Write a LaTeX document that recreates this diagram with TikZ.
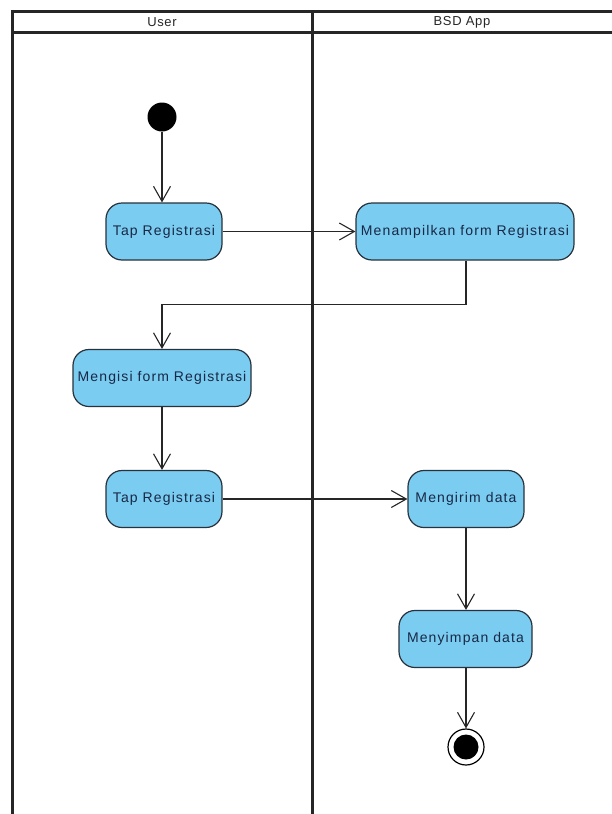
\documentclass[tikz,border=0pt]{standalone}
\usepackage{fontspec}
\setmainfont{Liberation Sans}
\usetikzlibrary{arrows.meta,shapes.misc}
\definecolor{actfill}{RGB}{122,204,240}
\definecolor{actline}{RGB}{40,50,60}
\definecolor{acttext}{RGB}{25,40,70}
\tikzset{
  act/.style={draw=actline, line width=1.2pt, fill=actfill, rounded corners=16pt,
    minimum height=57pt, inner sep=2pt, text=acttext,
    font=\fontsize{14}{16}\selectfont\addfontfeature{LetterSpace=8}},
  flow/.style={draw=black!85, line width=1.1pt,
    -{Straight Barb[length=15pt,width=17pt,line width=1.1pt]}},
  lane/.style={draw=black!85, line width=2.2pt},
  lanehead/.style={font=\fontsize{13}{15}\selectfont\addfontfeature{LetterSpace=5}, text=black!85}
}
\begin{document}
\begin{tikzpicture}[x=1pt,y=-1pt]
  \useasboundingbox[fill=white] (0,0) rectangle (611,814);

  % swimlane frame
  \draw[lane] (12.5,814) -- (12.5,11.5) -- (612,11.5);
  \draw[lane] (12.5,32.5) -- (612,32.5);
  \draw[lane] (312.5,11.5) -- (312.5,814);
  \node[lanehead] (hUser) at (162,22.5) {User};
  \node[lanehead] (hApp) at (462,22.5) {BSD App};

  % initial and final states
  \node[circle, fill=black, minimum size=29pt, inner sep=0pt] (start) at (162,117) {};
  \node[circle, draw=black, line width=1.2pt, fill=white, minimum size=36pt, inner sep=0pt] (stop) at (466,747) {};
  \node[circle, fill=black, minimum size=25pt, inner sep=0pt] (stopdot) at (466,747) {};

  % activities
  \node[act, minimum width=116pt] (tap1) at (164,231.5) {Tap Registrasi};
  \node[act, minimum width=218pt] (show) at (465,231.5) {Menampilkan form Registrasi};
  \node[act, minimum width=178pt] (fill) at (162,378) {Mengisi form Registrasi};
  \node[act, minimum width=116pt] (tap2) at (164,499) {Tap Registrasi};
  \node[act, minimum width=116pt] (send) at (466,499) {Mengirim data};
  \node[act, minimum width=133pt] (save) at (465.5,639) {Menyimpan data};

  % control flow
  \draw[flow] (start) -- (start |- tap1.north);
  \draw[flow] (tap1) -- (show);
  \draw[flow] (show.south -| 466,0) -- ++(0,44) -| (fill.north -| start);
  \draw[flow] (fill.south -| start) -- (tap2.north -| start);
  \draw[flow] (tap2) -- (send);
  \draw[flow] (send.south -| stop) -- (save.north -| stop);
  \draw[flow] (save.south -| stop) -- (stop.north);
\end{tikzpicture}
\end{document}
